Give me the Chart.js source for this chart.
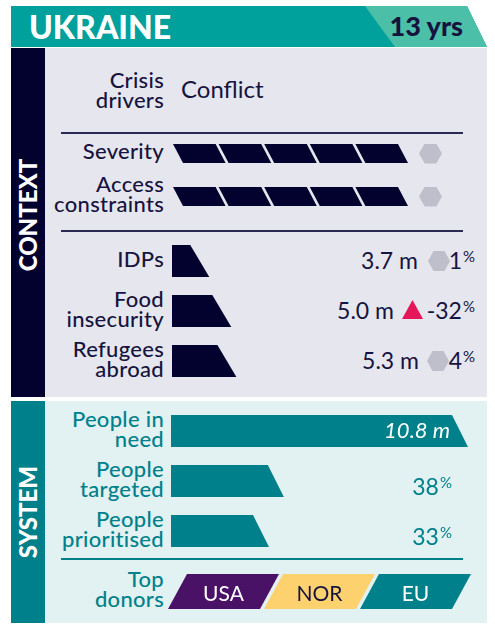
<!DOCTYPE html>
<html>
<head>
<meta charset="utf-8">
<script src="https://cdn.jsdelivr.net/npm/chart.js@4.4.1/dist/chart.umd.min.js"></script>
<style>
  body { margin: 0; background: #fff; }
  #card { position: relative; width: 495px; height: 624px; font-family: 'Lato', sans-serif; overflow: hidden; }
  #card div, #card span.abs, #card canvas { position: absolute; }
  .lbl { right: 331px; text-align: right; font-size: 22px; line-height: 20px; font-weight: 500; letter-spacing: 0.3px; white-space: nowrap; }
  .navy { color: #16143f; }
  .teal { color: #00808a; }
  .num { font-size: 23px; line-height: 23px; white-space: nowrap; text-align: right; }
  .pct { font-size: 15px; position: relative; top: -7px; margin-left: 1px; }
  .hex { clip-path: polygon(25% 0, 75% 0, 100% 50%, 75% 100%, 25% 100%, 0 50%); background: #bfbfcc; }
  .side { color: #fff; font-weight: 900; font-size: 24px; line-height: 1; white-space: nowrap;
          transform: translate(-50%, -50%) rotate(-90deg); }
  .rule { height: 1.5px; left: 61px; width: 402px; }
</style>
</head>
<body>
<div id="card">
  <div style="left:11px;top:6px;width:476px;height:41px;background:#00a09c;clip-path:polygon(0 0,456px 0,476px 41px,0 41px)"></div>
  <div style="left:11px;top:6px;width:476px;height:41px;background:#4cbfa9;clip-path:polygon(354px 0,456px 0,476px 41px,384px 41px)"></div>
  <div id="country" style="left:29px;top:7px;font-size:32px;line-height:40px;font-weight:900;color:#fff"></div>
  <div id="years" style="right:32px;top:6px;font-size:27px;line-height:40px;font-weight:900;color:#16143f"></div>

  <div style="left:11px;top:48px;width:476px;height:349px;background:#e6e6ee"></div>
  <div style="left:11px;top:48px;width:34px;height:349px;background:#03022f"></div>
  <div class="side" style="left:28px;top:215px">CONTEXT</div>

  <div style="left:11px;top:401px;width:476px;height:222px;background:#e2f1f2"></div>
  <div style="left:11px;top:401px;width:34px;height:222px;background:#00808a"></div>
  <div class="side" style="left:28px;top:512px">SYSTEM</div>

  <div class="lbl navy" style="top:70px">Crisis<br>drivers</div>
  <div id="drivers" class="navy" style="left:181px;top:77px;font-size:24px;line-height:23px"></div>

  <div class="rule" style="top:132px;background:#2b2a55"></div>
  <div class="rule" style="top:230px;background:#2b2a55"></div>
  <div class="rule" style="top:558px;background:#00808a"></div>

  <canvas id="scores" width="243" height="86" style="left:173px;top:132px"></canvas>
  <canvas id="figures" width="144" height="150" style="left:172px;top:236px"></canvas>
  <canvas id="system" width="297" height="150" style="left:171px;top:406px"></canvas>
  <canvas id="donors" width="307" height="41" style="left:168px;top:571px"></canvas>
</div>
<script>
// crisis profile
const country = 'UKRAINE';
const years = 13;
const crisisDrivers = ['Conflict'];

// severity and access, 1-5
const scoreLabels = ['Severity', ['Access', 'constraints']];
const scoreValues = [5, 5];

// humanitarian figures, millions, and change in %
const figureLabels = ['IDPs', ['Food', 'insecurity'], ['Refugees', 'abroad']];
const figureValues = [3.7, 5.0, 5.3];
const figureChange = [1, -32, 4];
const figureTrend = ['flat', 'up', 'flat'];

// response system, % of people in need
const systemLabels = [['People in', 'need'], ['People', 'targeted'], ['People', 'prioritised']];
const systemShares = [100, 38, 33];
const peopleInNeed = 10.8;

// top donors, in rank order
const donorNames = ['USA', 'NOR', 'EU'];
const donorSlots = [1, 1, 1];
const donorColors = ['#4a1266', '#fdd26e', '#00808a'];
const donorText = ['#fff', '#16143f', '#fff'];

const card = document.getElementById('card');
document.getElementById('country').textContent = country;
document.getElementById('years').textContent = years + ' yrs';
document.getElementById('drivers').textContent = crisisDrivers.join(', ');

function poly(ctx, pts, color) {
  ctx.beginPath();
  ctx.moveTo(pts[0][0], pts[0][1]);
  for (let k = 1; k < pts.length; k++) ctx.lineTo(pts[k][0], pts[k][1]);
  ctx.closePath();
  ctx.fillStyle = color;
  ctx.fill();
}

// bars are drawn as slanted blocks instead of rectangles
const shapePlugin = {
  id: 'shapes',
  beforeDatasetsDraw(chart, args, opts) {
    const ctx = chart.ctx, xs = chart.scales.x;
    const s = opts.slant, g = opts.gap || 0;
    chart.data.datasets.forEach((ds, di) => {
      chart.getDatasetMeta(di).data.forEach((el, i) => {
        const t = el.y - el.height / 2, b = el.y + el.height / 2;
        const c = Array.isArray(ds.backgroundColor) ? ds.backgroundColor[i] : ds.backgroundColor;
        if (opts.kind === 'blocks') {
          for (let u = 0; u < ds.data[i]; u++) {
            const l = xs.getPixelForValue(u), r = xs.getPixelForValue(u + 1) - g;
            poly(ctx, [[l, t], [r, t], [r + s, b], [l + s, b]], c);
          }
        } else if (opts.kind === 'lean') {
          const l = el.base, r = el.x - g;
          poly(ctx, [[l, t], [r, t], [r - s, b], [l - s, b]], c);
        } else {
          poly(ctx, [[el.base, t], [el.x - s, t], [el.x, b], [el.base, b]], c);
        }
      });
    });
    return false;
  }
};

function barChart(id, labels, datasets, range, shapes, stacked, pad) {
  return new Chart(document.getElementById(id), {
    type: 'bar',
    data: { labels: labels, datasets: datasets },
    plugins: [shapePlugin],
    options: {
      indexAxis: 'y',
      responsive: false,
      animation: false,
      events: [],
      layout: { padding: pad || 0 },
      plugins: { legend: { display: false }, tooltip: { enabled: false }, shapes: shapes },
      scales: {
        x: { display: false, min: range[0], max: range[1], stacked: !!stacked },
        y: { display: false, stacked: !!stacked }
      }
    }
  });
}

function add(html, cls, style) {
  const d = document.createElement('div');
  d.className = cls;
  d.innerHTML = html;
  Object.assign(d.style, style);
  card.appendChild(d);
  return d;
}

function rowLabels(chart, cls) {
  const top = parseFloat(chart.canvas.style.top);
  chart.getDatasetMeta(0).data.forEach((el, i) => {
    const l = chart.data.labels[i];
    const lines = Array.isArray(l) ? l : [l];
    add(lines.join('<br>'), 'lbl ' + cls, { top: (top + el.y - lines.length * 10 - 2.5) + 'px' });
  });
}

const scores = barChart('scores', scoreLabels,
  [{ data: scoreValues, backgroundColor: '#03022f', barThickness: 19 }],
  [0, 5], { kind: 'blocks', slant: 10, gap: 3 }, false, { right: 15 });
rowLabels(scores, 'navy');
scores.getDatasetMeta(0).data.forEach(el => {
  add('', 'hex', { left: '419px', top: (132 + el.y - 10) + 'px', width: '23px', height: '20px' });
});

const figures = barChart('figures', figureLabels,
  [{ data: figureValues, backgroundColor: '#03022f', barThickness: 32 }],
  [1.5, 10], { kind: 'trap', slant: 19 });
rowLabels(figures, 'navy');
const valueRight = [418, 394, 419];
const markLeft = [428, 402, 427];
figures.getDatasetMeta(0).data.forEach((el, i) => {
  const cy = 236 + el.y;
  add(figureValues[i].toFixed(1) + ' m', 'num navy', { right: (495 - valueRight[i]) + 'px', top: (cy - 12) + 'px' });
  if (figureTrend[i] === 'up') {
    add('', '', { left: markLeft[i] + 'px', top: (cy - 11) + 'px', width: '21px', height: '19px',
      background: '#e5175a', clipPath: 'polygon(50% 0, 100% 100%, 0 100%)' });
  } else {
    add('', 'hex', { left: markLeft[i] + 'px', top: (cy - 10) + 'px', width: '22px', height: '20px' });
  }
  add(figureChange[i] + '<span class="pct">%</span>', 'num navy', { right: '20px', top: (cy - 12) + 'px' });
});

const system = barChart('system', systemLabels,
  [{ data: systemShares, backgroundColor: '#00808a', barThickness: 32 }],
  [0, 100], { kind: 'trap', slant: 16 });
rowLabels(system, 'teal');
system.getDatasetMeta(0).data.forEach((el, i) => {
  const cy = 406 + el.y;
  if (i === 0) {
    add(peopleInNeed.toFixed(1) + ' m', 'num', { right: (495 - (171 + el.x - 18)) + 'px', top: (cy - 13) + 'px',
      color: '#fff', fontStyle: 'italic', fontSize: '22px' });
  } else {
    add(systemShares[i] + '<span class="pct">%</span>', 'num teal', { right: '43px', top: (cy - 6) + 'px' });
  }
});

const donors = barChart('donors', [['Top', 'donors']],
  donorNames.map((n, i) => ({ label: n, data: [donorSlots[i]], backgroundColor: donorColors[i], barThickness: 35 })),
  [0, 3], { kind: 'lean', slant: 19, gap: 4 }, true, { left: 19 });
rowLabels(donors, 'teal');
donorNames.forEach((n, i) => {
  const el = donors.getDatasetMeta(i).data[0];
  const cx = 168 + (el.base + el.x - 4) / 2 - 9.5;
  add(n, '', { left: cx + 'px', top: (571 + el.y) + 'px', transform: 'translate(-50%, -50%)',
    fontSize: '21px', lineHeight: '21px', color: donorText[i] });
});
</script>
</body>
</html>
